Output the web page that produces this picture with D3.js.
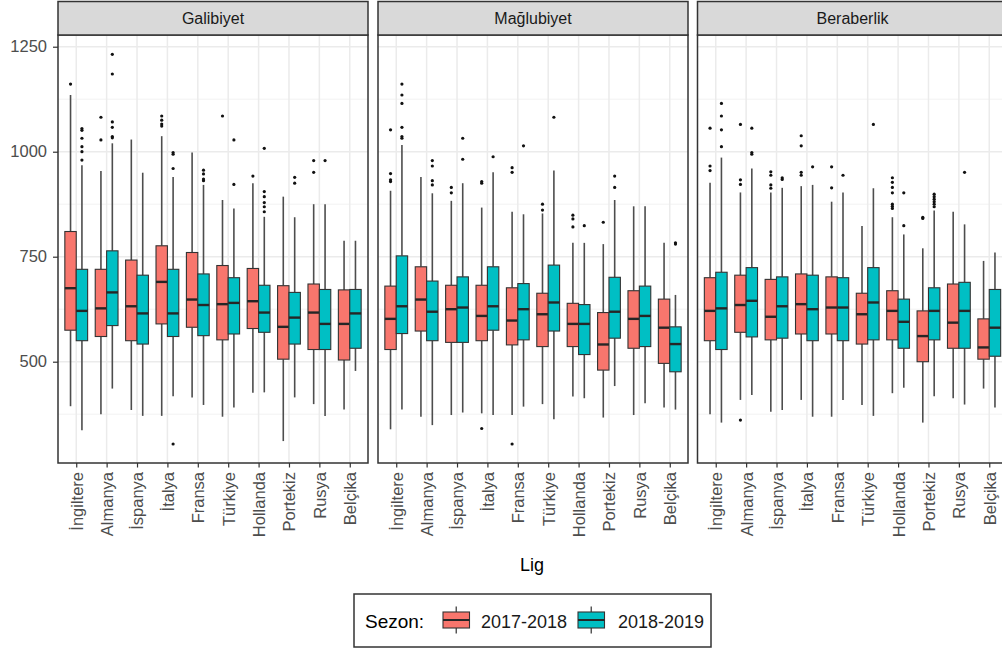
<!DOCTYPE html>
<html>
<head>
<meta charset="utf-8">
<script src="https://cdn.jsdelivr.net/npm/d3@7"></script>
<style>
  body { margin: 0; background: #fff; }
  svg { display: block; }
</style>
</head>
<body>
<svg id="chart" width="1002" height="650"></svg>
<script>
// ---------------- DATA ----------------
const categories = ["İngiltere","Almanya","İspanya","İtalya","Fransa","Türkiye","Hollanda","Portekiz","Rusya","Belçika"];
const facets = ["Galibiyet","Mağlubiyet","Beraberlik"];
const seasons = ["2017-2018","2018-2019"];
const seasonColors = ["#F8766D","#00BFC4"];
const yTicks = [500, 750, 1000, 1250];
const yMinorTicks = [375, 625, 875, 1125];

// box stats per category: [lower whisker, Q1, median, Q3, upper whisker]
const galibiyet2017 = [
  [394,575,675,810,1135],[375,560,627,720,954],[385,550,632,742,1029],[371,590,690,776,1037],[415,582,648,760,998],
  [369,552,637,729,885],[426,579,644,722,925],[311,506,583,681,893],[399,529,617,685,875],[386,504,590,671,788]
];
const galibiyet2018 = [
  [337,550,621,720,968],[436,586,665,764,1020],[371,542,615,706,950],[418,560,615,720,940],[397,562,635,709,921],
  [391,566,640,700,865],[427,570,617,682,845],[415,542,605,665,844],[371,529,590,672,875],[478,532,615,672,788]
];
const maglubiyet2017 = [
  [339,529,602,680,907],[369,573,648,726,940],[373,546,625,682,883],[377,550,609,682,867],[373,540,598,676,857],
  [399,536,613,663,853],[417,536,590,639,783],[367,480,541,617,780],[373,532,602,669,870],[391,496,581,649,783]
];
const maglubiyet2018 = [
  [386,567,632,752,1016],[349,550,619,692,901],[379,546,629,702,925],[373,575,632,726,951],[393,552,625,686,851],
  [363,573,641,730,955],[413,517,590,636,783],[442,556,619,701,885],[401,536,609,680,870],[386,476,542,583,659]
];
const beraberlik2017 = [
  [375,550,621,700,926],[409,570,635,706,903],[381,552,607,696,903],[409,566,637,709,918],[369,566,629,702,881],
  [397,542,613,663,823],[425,552,621,669,844],[355,500,561,621,770],[413,532,593,685,857],[436,506,534,602,740]
];
const beraberlik2018 = [
  [355,529,627,713,986],[421,559,645,724,960],[385,556,632,702,914],[369,550,625,706,921],[409,550,629,700,903],
  [371,552,641,724,913],[438,532,595,649,803],[418,552,621,676,860],[398,532,621,689,827],[391,513,581,672,760]
];

// outliers per category
const galibiyet2017Out = [[1161],[1082,1028],[],[1085,1075,1066,1061],[],[1085],[942],[],[979,951],[]];
const galibiyet2018Out = [[1055,1051,1032,1012,1000,980],[1232,1185,1071,1058,1036,1033],[],[998,994,960,304],[956,947,935,931],[1028,922],[1008,905,893,879,869,857],[939,925],[979],[]];
const maglubiyet2017Out = [[1052,948,933,929],[],[915,902],[929,925,341],[962,951,304],[875,861],[849,840,821],[832],[],[]];
const maglubiyet2018Out = [[1161,1135,1115,1058,1036,1032],[979,966,931,921],[1032,982],[988],[1014],[1082],[824],[942,915],[],[783,780]];
const beraberlik2017Out = [[1056,966,955],[1065,933,922,361],[952,944,921,913],[1038,1014,951,944],[964,914],[],[938,927,915,902,875,870,865],[844,841],[],[]];
const beraberlik2018Out = [[1115,1085,1052,1012],[1056,998,994],[938,934],[964],[944],[1065],[902,824],[899,893,887,881,875,869],[951],[]];

const statsByFacet = [[galibiyet2017, galibiyet2018],[maglubiyet2017, maglubiyet2018],[beraberlik2017, beraberlik2018]];
const outByFacet = [[galibiyet2017Out, galibiyet2018Out],[maglubiyet2017Out, maglubiyet2018Out],[beraberlik2017Out, beraberlik2018Out]];

// ---------------- LAYOUT ----------------
const svg = d3.select("#chart");
const panelX = [58, 378, 697.5];
const panelW = 310;
const stripTop = 1.5, plotTop = 35, plotBottom = 463;

const y = d3.scaleLinear().domain([258.8, 1277.9]).range([plotBottom, plotTop]);

const FONT = "'Liberation Sans', Arial, sans-serif";

facets.forEach((facet, fi) => {
  const x0 = panelX[fi];
  const x = d3.scalePoint().domain(categories).range([x0, x0 + panelW]).padding(0.6);
  const step = x.step();
  const boxW = step * 0.375;
  const g = svg.append("g");

  g.append("rect").attr("x", x0).attr("y", plotTop).attr("width", panelW).attr("height", plotBottom - plotTop)
    .attr("fill", "#fff");

  // grid
  g.selectAll(".gmin").data(yMinorTicks).join("line")
    .attr("x1", x0).attr("x2", x0 + panelW)
    .attr("y1", d => y(d)).attr("y2", d => y(d))
    .attr("stroke", "#F2F2F2").attr("stroke-width", 1);
  g.selectAll(".gmaj").data(yTicks).join("line")
    .attr("x1", x0).attr("x2", x0 + panelW)
    .attr("y1", d => y(d)).attr("y2", d => y(d))
    .attr("stroke", "#EBEBEB").attr("stroke-width", 1.5);
  g.selectAll(".gx").data(categories).join("line")
    .attr("x1", d => x(d)).attr("x2", d => x(d))
    .attr("y1", plotTop).attr("y2", plotBottom)
    .attr("stroke", "#EBEBEB").attr("stroke-width", 1.5);

  // boxes
  seasons.forEach((s, si) => {
    const stats = statsByFacet[fi][si];
    const outs = outByFacet[fi][si];
    const offset = (si === 0 ? -1 : 1) * boxW / 2;
    const sg = g.append("g");
    categories.forEach((c, ci) => {
      const [lo, q1, med, q3, hi] = stats[ci];
      const cx = x(c) + offset;
      sg.append("line").attr("x1", cx).attr("x2", cx).attr("y1", y(hi)).attr("y2", y(q3))
        .attr("stroke", "#4D4D4D").attr("stroke-width", 1.6);
      sg.append("line").attr("x1", cx).attr("x2", cx).attr("y1", y(q1)).attr("y2", y(lo))
        .attr("stroke", "#4D4D4D").attr("stroke-width", 1.6);
      sg.append("rect").attr("x", cx - boxW / 2).attr("y", y(q3))
        .attr("width", boxW).attr("height", y(q1) - y(q3))
        .attr("fill", seasonColors[si]).attr("stroke", "#333").attr("stroke-width", 1.1);
      sg.append("line").attr("x1", cx - boxW / 2).attr("x2", cx + boxW / 2)
        .attr("y1", y(med)).attr("y2", y(med))
        .attr("stroke", "#262626").attr("stroke-width", 2.4);
      sg.selectAll(null).data(outs[ci]).join("circle")
        .attr("cx", cx).attr("cy", d => y(d)).attr("r", 1.6).attr("fill", "#111");
    });
  });

  // panel border
  g.append("rect").attr("x", x0).attr("y", plotTop).attr("width", panelW).attr("height", plotBottom - plotTop)
    .attr("fill", "none").attr("stroke", "#333").attr("stroke-width", 1.5);

  // strip
  g.append("rect").attr("x", x0).attr("y", stripTop).attr("width", panelW).attr("height", plotTop - stripTop)
    .attr("fill", "#D9D9D9").attr("stroke", "#333").attr("stroke-width", 1.5);
  g.append("text").attr("x", x0 + panelW / 2).attr("y", (stripTop + plotTop) / 2)
    .attr("text-anchor", "middle").attr("dominant-baseline", "central")
    .attr("font-family", FONT).attr("font-size", 16).attr("fill", "#1A1A1A").text(facet);

  // x axis
  const xAxis = g.append("g").attr("transform", `translate(0,${plotBottom})`)
    .call(d3.axisBottom(x).tickSize(4.5).tickSizeOuter(0));
  xAxis.select(".domain").remove();
  xAxis.selectAll(".tick line").attr("stroke", "#333").attr("stroke-width", 1.2);
  xAxis.selectAll(".tick text")
    .attr("transform", "rotate(-90)")
    .attr("x", -9).attr("y", 0).attr("dy", "0.36em")
    .style("text-anchor", "end")
    .attr("font-family", FONT).attr("font-size", 16.5).attr("fill", "#4D4D4D");

  // y axis on first panel
  if (fi === 0) {
    const yAxis = g.append("g").attr("transform", `translate(${x0},0)`)
      .call(d3.axisLeft(y).tickValues(yTicks).tickFormat(d3.format("d")).tickSize(5).tickSizeOuter(0));
    yAxis.select(".domain").remove();
    yAxis.selectAll(".tick line").attr("stroke", "#333").attr("stroke-width", 1.2);
    yAxis.selectAll(".tick text").attr("x", -11)
      .attr("font-family", FONT).attr("font-size", 16.5).attr("fill", "#4D4D4D");
  }
});

// axis title
svg.append("text").attr("x", 532).attr("y", 571).attr("text-anchor", "middle")
  .attr("font-family", FONT).attr("font-size", 18).attr("fill", "#000").text("Lig");

// legend
const lg = svg.append("g");
lg.append("rect").attr("x", 354).attr("y", 594).attr("width", 357).attr("height", 53)
  .attr("fill", "#fff").attr("stroke", "#333").attr("stroke-width", 1.5);
lg.append("text").attr("x", 365).attr("y", 628).attr("font-family", FONT).attr("font-size", 19)
  .attr("fill", "#000").text("Sezon:");
const keyX = [443, 578];
const labX = [481, 618];
seasons.forEach((s, si) => {
  const kx = keyX[si], kw = 26.5, cx = kx + kw / 2;
  lg.append("line").attr("x1", cx).attr("x2", cx).attr("y1", 606.5).attr("y2", 633.5)
    .attr("stroke", "#4D4D4D").attr("stroke-width", 1.4);
  lg.append("rect").attr("x", kx).attr("y", 612).attr("width", kw).attr("height", 16)
    .attr("fill", seasonColors[si]).attr("stroke", "#333").attr("stroke-width", 1.1);
  lg.append("line").attr("x1", kx).attr("x2", kx + kw).attr("y1", 620).attr("y2", 620)
    .attr("stroke", "#262626").attr("stroke-width", 2);
  lg.append("text").attr("x", labX[si]).attr("y", 628).attr("font-family", FONT).attr("font-size", 18)
    .attr("fill", "#1A1A1A").text(s);
});
</script>
</body>
</html>
